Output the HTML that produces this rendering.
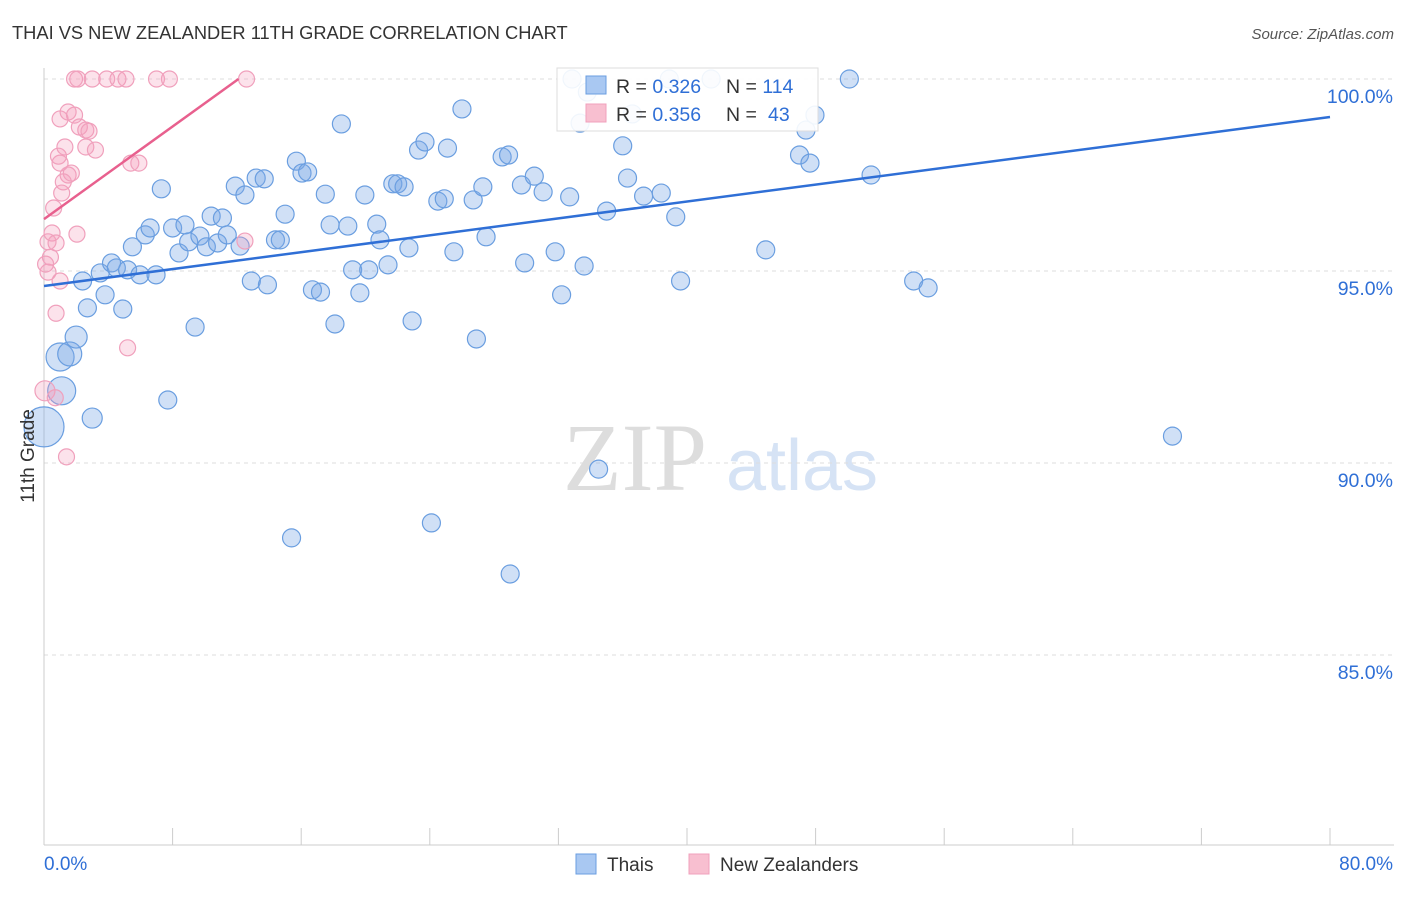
<!DOCTYPE html>
<html><head><meta charset="utf-8"><style>
body{margin:0;background:#fff;font-family:"Liberation Sans",sans-serif}
svg text{font-family:"Liberation Sans",sans-serif}
</style></head><body>
<svg id="chart" width="1406" height="892" xmlns="http://www.w3.org/2000/svg">
<text x="12" y="39" font-size="18.3" fill="#333">THAI VS NEW ZEALANDER 11TH GRADE CORRELATION CHART</text>
<text x="1394" y="39" font-size="15" fill="#555" text-anchor="end" font-style="italic">Source: ZipAtlas.com</text>
<g>
<text x="635" y="490" font-size="96" fill="#ddd" text-anchor="middle" font-family="Liberation Serif" style="font-family:'Liberation Serif',serif">ZIP</text>
<text x="802" y="490" font-size="72" fill="#d6e3f5" text-anchor="middle">atlas</text>
</g>
<g id="grid"></g>
<g id="axes"></g>
<g id="pts"></g>
<g id="trends"></g>
<text x="34" y="456" font-size="19" fill="#333" text-anchor="middle" transform="rotate(-90 34 456)">11th Grade</text>
<g>
<rect x="557" y="68" width="261" height="63" fill="rgba(255,255,255,0.9)" stroke="#ddd"/>
<rect x="586" y="76" width="20" height="18" fill="#a9c8f2" stroke="#6a9ee0"/>
<rect x="586" y="104" width="20" height="18" fill="#f8bfd0" stroke="#f0a0bc"/>
<text x="616" y="93" font-size="19.5" fill="#333">R = <tspan fill="#2f6fd6">0.326</tspan><tspan x="726">N = </tspan><tspan fill="#2f6fd6">114</tspan></text>
<text x="616" y="121" font-size="19.5" fill="#333">R = <tspan fill="#2f6fd6">0.356</tspan><tspan x="726">N = </tspan><tspan x="768" fill="#2f6fd6">43</tspan></text>
</g>
<g>
<rect x="576" y="854" width="20" height="20" fill="#a9c8f2" stroke="#6a9ee0"/>
<text x="607" y="871" font-size="19" fill="#333">Thais</text>
<rect x="689" y="854" width="20" height="20" fill="#f8bfd0" stroke="#f0a0bc"/>
<text x="720" y="871" font-size="19" fill="#333">New Zealanders</text>
</g>
</svg>
<script>
const yTicks=[100,95,90,85];
const yTickLabels=["100.0%","95.0%","90.0%","85.0%"];
const xTickLabels=["0.0%","80.0%"];
const thaisX=[0,1.0,1.1,1.6,2.0,3.0,2.4,2.7,3.5,3.8,4.2,4.5,4.9,5.2,5.5,5.97,6.3,6.6,6.97,7.3,7.7,8.0,8.4,8.77,9.0,9.4,9.7,10.1,10.4,10.8,11.1,11.4,11.9,12.2,12.5,12.9,13.2,13.7,13.9,14.4,14.7,15.0,15.4,15.7,16.05,16.4,16.7,17.2,17.5,17.8,18.1,18.5,18.9,19.2,19.65,19.96,20.2,20.7,20.9,21.4,21.7,22.0,22.4,22.7,22.9,23.3,23.7,24.1,24.5,24.9,25.1,25.5,26.0,26.7,26.9,27.3,27.5,28.5,28.9,29.0,29.7,29.9,30.5,31.05,31.8,32.2,32.7,32.85,33.35,33.6,33.8,34.5,35.0,36.0,36.3,36.6,37.3,38.4,38.9,39.3,39.6,41.5,44.9,47.0,47.4,47.65,47.96,50.1,51.45,54.1,55.0,70.2];
const thaisY=[90.94,92.76,91.88,92.84,93.28,91.17,94.74,94.04,94.95,94.38,95.21,95.08,94.01,95.03,95.63,94.9,95.94,96.12,94.9,97.14,91.64,96.12,95.47,96.2,95.76,93.54,95.91,95.63,96.43,95.73,96.38,95.94,97.21,95.65,96.98,94.74,97.42,97.4,94.64,95.81,95.81,96.48,88.05,97.86,97.55,97.58,94.51,94.45,97.0,96.2,93.62,98.83,96.17,95.03,94.43,96.98,95.03,96.22,95.81,95.16,97.27,97.27,97.19,95.6,93.7,98.15,98.36,88.44,96.82,96.88,98.2,95.5,99.22,96.85,93.23,97.19,95.89,97.97,98.02,87.11,97.24,95.21,97.47,97.06,95.5,94.38,96.93,100,98.85,95.13,99.66,89.84,96.56,98.26,97.42,99.09,96.95,97.03,100,96.41,94.74,100,95.55,98.02,98.67,97.81,99.06,100,97.5,94.74,94.56,90.7];
const thaisR=[20,14,14,12,11,10];
const nzX=[0.06,0.7,1.4,0.75,0.25,0.4,0.25,0.5,0.75,0.6,1.1,1.0,0.9,1.5,1.7,1.3,1.0,1.5,1.9,2.2,2.6,2.6,3.2,1.9,2.1,3.0,3.9,4.6,5.1,7.0,7.8,12.6,5.4,5.9,2.05,1.0,5.2,12.5,2.8,1.2,0.1];
const nzY=[91.88,91.7,90.16,93.9,94.97,95.36,95.76,95.99,95.73,96.64,97.03,97.81,97.99,97.5,97.55,98.23,98.96,99.14,99.06,98.75,98.67,98.23,98.15,100,100,100,100,100,100,100,100,100,97.81,97.81,95.96,94.74,93.0,95.78,98.64,97.32,95.18];
const thaiTrend=[[0,94.61],[80,99.01]];
const nzTrend=[[0,96.35],[12.1,100]];
const NS="http://www.w3.org/2000/svg";
const X0=44,X1=1330,Y100=79,PX=38.4;
function xs(v){return X0+(X1-X0)*v/80;}
function ys(v){return Y100+(100-v)*PX;}
function mk(tag,attrs,parent){const e=document.createElementNS(NS,tag);for(const k in attrs)e.setAttribute(k,attrs[k]);parent.appendChild(e);return e;}
const grid=document.getElementById('grid'),axes=document.getElementById('axes'),pts=document.getElementById('pts'),tr=document.getElementById('trends');
yTicks.forEach((t,i)=>{
 const l=mk('line',{x1:X0,x2:1394,y1:ys(t),y2:ys(t),stroke:'#ddd','stroke-dasharray':'4 4'},grid);
 
 
 const tx=mk('text',{x:1393,y:ys(t)+24,'font-size':19.5,fill:'#2f6fd6','text-anchor':'end'},axes);
 tx.textContent=yTickLabels[i];
 
 
});
const ax=mk('line',{x1:X0,x2:1394,y1:845,y2:845,stroke:'#ccc'},axes);


const ay=mk('line',{x1:X0,x2:X0,y1:68,y2:845,stroke:'#ccc'},axes);


for(let i=0;i<=10;i++){
 const t=mk('line',{x1:xs(i*8),x2:xs(i*8),y1:828,y2:845,stroke:'#ccc'},axes);
 
 
}
const xl0=mk('text',{x:44,y:870,'font-size':19,fill:'#2f6fd6'},axes);xl0.textContent=xTickLabels[0];


const xl1=mk('text',{x:1393,y:870,'font-size':19,fill:'#2f6fd6','text-anchor':'end'},axes);xl1.textContent=xTickLabels[1];


thaisX.forEach((x,i)=>{
 const c=mk('circle',{cx:xs(x),cy:ys(thaisY[i]),r:i<thaisR.length?thaisR[i]:9,fill:'rgba(120,165,230,0.35)',stroke:'#6a9ee0','stroke-width':1.2},pts);
 
 
});
nzX.forEach((x,i)=>{
 const c=mk('circle',{cx:xs(x),cy:ys(nzY[i]),r:i==0?10:8,fill:'rgba(245,160,190,0.3)',stroke:'#f0a0bc','stroke-width':1.2},pts);
 
 
});
const l1=mk('line',{x1:xs(thaiTrend[0][0]),y1:ys(thaiTrend[0][1]),x2:xs(thaiTrend[1][0]),y2:ys(thaiTrend[1][1]),stroke:'#2f6fd6','stroke-width':2.5},tr);


const l2=mk('line',{x1:xs(nzTrend[0][0]),y1:ys(nzTrend[0][1]),x2:xs(nzTrend[1][0]),y2:ys(nzTrend[1][1]),stroke:'#e8608e','stroke-width':2.5},tr);


</script>
</body></html>
